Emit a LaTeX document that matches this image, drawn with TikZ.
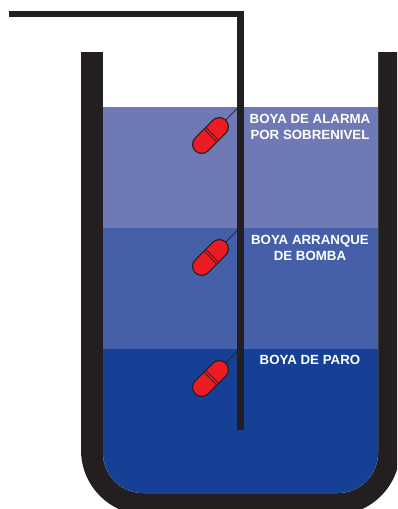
\documentclass[tikz,border=0pt]{standalone}
\usepackage{fontspec}
\setmainfont{Liberation Sans}
\definecolor{pared}{HTML}{231F20}
\definecolor{aguaalta}{HTML}{6F79B6}
\definecolor{aguamedia}{HTML}{4560A8}
\definecolor{aguabaja}{HTML}{154096}
\definecolor{rojoboya}{HTML}{ED1C24}
\tikzset{
    boyaborde/.style={pared,line cap=round,line width=19.4pt},
    boyarelleno/.style={rojoboya,line cap=round,line width=16.9pt},
    boyalinea/.style={pared,line width=0.7pt},
    etiqueta/.style={text=white,font=\bfseries\fontsize{13.3}{16}\selectfont,align=center}
}
\begin{document}
\begin{tikzpicture}[x=1pt,y=-1pt]
    \useasboundingbox (0,0) rectangle (397,509);
    \clip (0,0) rectangle (397,509);

    % tanque
    \fill [pared] (81,52) [rounded corners=65pt] -- (81,515) -- (400,515) [sharp corners] -- (400,52) -- (378,52) -- (103,52) -- cycle;
    \fill [white] (103,52) [rounded corners=40pt] -- (103,493) -- (378,493) [sharp corners] -- (378,52) -- cycle;

    % niveles
    \fill [aguaalta] (103,107) rectangle (378,228);
    \fill [aguamedia] (103,228) rectangle (378,349);
    \fill [aguabaja] (103,349) [rounded corners=40pt] -- (103,493) -- (378,493) [sharp corners] -- (378,349) -- cycle;

    % barra
    \fill [pared] (9,11) rectangle (243.5,16.5);
    \fill [pared] (237,11) rectangle (243.5,430);

    % boyas
    \foreach \n/\y in {alarma/135.5,arranque/257.5,paro/378.5} {
        \coordinate (abajo\n) at (201.7,\y+8.8);
        \coordinate (arriba\n) at (219.3,\y-8.8);
        \coordinate (cable\n) at (238,\y-28);
        \draw [boyalinea] (arriba\n) -- (cable\n);
        \draw [boyaborde] (abajo\n) -- (arriba\n);
        \draw [boyarelleno] (abajo\n) -- (arriba\n);
        \draw [boyalinea]
            (204.3,\y-6) -- (216,\y+5.8)
            (206.2,\y-7.8) -- (217.9,\y+4);
    }

    % textos
    \node [etiqueta] (textoalarma) at (310,126.5) {BOYA DE ALARMA\\POR SOBRENIVEL};
    \node [etiqueta] (textoarranque) at (310,248) {BOYA ARRANQUE\\DE BOMBA};
    \node [etiqueta] (textoparo) at (310,359.5) {BOYA DE PARO};
\end{tikzpicture}
\end{document}
